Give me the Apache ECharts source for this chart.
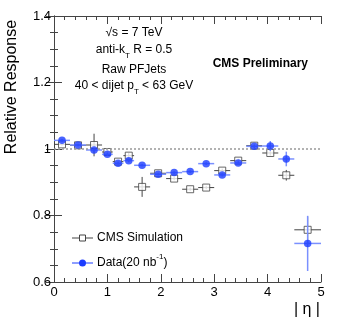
<!DOCTYPE html>
<html>
<head>
<meta charset="utf-8">
<script src="https://cdn.jsdelivr.net/npm/echarts@6/dist/echarts.min.js"></script>
<style>
  html, body { margin: 0; padding: 0; background: #fff; }
  #chart { width: 338px; height: 324px; }
</style>
</head>
<body>
<div id="chart"></div>
<script>
// |eta| bins: centre and half width
const etaCenters = [0.15, 0.45, 0.75, 1.0, 1.2, 1.4, 1.65, 1.95, 2.25, 2.55, 2.85, 3.15, 3.45, 3.75, 4.05, 4.35, 4.75]
const etaHalfWidths = [0.15, 0.15, 0.15, 0.1, 0.1, 0.1, 0.15, 0.15, 0.15, 0.15, 0.15, 0.15, 0.15, 0.15, 0.15, 0.15, 0.25]

// CMS Simulation (open squares)
const simValues = [1.014, 1.011, 1.012, 0.991, 0.962, 0.980, 0.886, 0.927, 0.911, 0.879, 0.884, 0.935, 0.965, 1.010, 0.988, 0.921, 0.757]
const simErrors = [0.004, 0.004, 0.034, 0.005, 0.005, 0.008, 0.030, 0.005, 0.005, 0.005, 0.005, 0.006, 0.006, 0.005, 0.008, 0.016, 0.040]

// Data 20 nb^-1 (filled circles)
const dataValues = [1.026, 1.012, 0.997, 0.984, 0.957, 0.965, 0.951, 0.924, 0.929, 0.932, 0.956, 0.922, 0.958, 1.008, 1.009, 0.970, 0.716]
const dataErrors = [0.004, 0.004, 0.006, 0.005, 0.005, 0.005, 0.004, 0.004, 0.004, 0.004, 0.004, 0.005, 0.005, 0.005, 0.015, 0.022, 0.083]

const yTicks = [0.6, 0.8, 1.0, 1.2, 1.4]

const FONT = "'Liberation Sans', Arial, sans-serif"
const SIM_COLOR = '#444'
const DATA_COLOR = '#1c3cff'
const DATA_BAR = '#7a90ff'

const simPoints = etaCenters.map((x, i) => [x, simValues[i], etaHalfWidths[i], simErrors[i]])
const dataPoints = etaCenters.map((x, i) => [x, dataValues[i], etaHalfWidths[i], dataErrors[i]])

const errorBars = (color, width) => (params, api) => {
  const x = api.value(0)
  const y = api.value(1)
  const hw = api.value(2)
  const e = api.value(3)
  const l = api.coord([x - hw, y])
  const r = api.coord([x + hw, y])
  const t = api.coord([x, y + e])
  const b = api.coord([x, y - e])
  const style = { stroke: color, lineWidth: width }
  return {
    type: 'group',
    children: [
      { type: 'line', shape: { x1: l[0], y1: l[1], x2: r[0], y2: r[1] }, style },
      { type: 'line', shape: { x1: t[0], y1: t[1], x2: b[0], y2: b[1] }, style }
    ]
  }
}

const axisCommon = {
  axisLine: { lineStyle: { color: '#444', width: 1 } },
  axisTick: { inside: true, length: 8, lineStyle: { color: '#444' } },
  minorTick: { show: true, length: 4, lineStyle: { color: '#444' } },
  splitLine: { show: false }
}

// small rich-text styles for sub / superscripts
const subStyle = { fontSize: 8, fontFamily: FONT, lineHeight: 8, verticalAlign: 'bottom' }
const supStyle = { fontSize: 8, fontFamily: FONT, lineHeight: 8, verticalAlign: 'top' }

const chart = echarts.init(document.getElementById('chart'))

const option = {
  backgroundColor: '#fff',
  animation: false,
  grid: { left: 54, right: 17, top: 16, bottom: 42 },
  xAxis: [
    {
      type: 'value', min: 0, max: 5, interval: 1, position: 'bottom',
      ...axisCommon,
      minorTick: { ...axisCommon.minorTick, splitNumber: 5 },
      axisLabel: { color: '#000', fontFamily: FONT, fontSize: 13, margin: 4 }
    },
    {
      type: 'value', min: 0, max: 5, interval: 1, position: 'top',
      ...axisCommon,
      minorTick: { ...axisCommon.minorTick, splitNumber: 5 },
      axisLabel: { show: false }
    }
  ],
  yAxis: [
    {
      type: 'value', min: yTicks[0], max: yTicks[yTicks.length - 1], interval: 0.2, position: 'left',
      ...axisCommon,
      minorTick: { ...axisCommon.minorTick, splitNumber: 4 },
      axisLabel: {
        color: '#000', fontFamily: FONT, fontSize: 13, margin: 3,
        formatter: v => String(Math.round(v * 10) / 10)
      }
    },
    {
      type: 'value', min: yTicks[0], max: yTicks[yTicks.length - 1], interval: 0.2, position: 'right',
      ...axisCommon,
      minorTick: { ...axisCommon.minorTick, splitNumber: 4 },
      axisLabel: { show: false }
    }
  ],
  series: [
    {
      name: 'ref',
      type: 'line',
      data: [],
      markLine: {
        silent: true,
        symbol: 'none',
        label: { show: false },
        lineStyle: { color: '#999', type: [2, 2], width: 1.5 },
        data: [{ yAxis: 1 }]
      }
    },
    {
      name: 'sim-err',
      type: 'custom',
      renderItem: errorBars(SIM_COLOR, 1),
      data: simPoints,
      encode: { x: 0, y: 1 },
      z: 2
    },
    {
      name: 'CMS Simulation',
      type: 'scatter',
      data: simPoints,
      symbol: 'rect',
      symbolSize: 7,
      itemStyle: { color: '#fff', borderColor: SIM_COLOR, borderWidth: 1 },
      z: 3
    },
    {
      name: 'data-err',
      type: 'custom',
      renderItem: errorBars(DATA_BAR, 1.5),
      data: dataPoints,
      encode: { x: 0, y: 1 },
      z: 4
    },
    {
      name: 'Data',
      type: 'scatter',
      data: dataPoints,
      symbol: 'circle',
      symbolSize: 7.5,
      itemStyle: { color: DATA_COLOR },
      z: 5
    }
  ],
  graphic: [
    {
      type: 'text', x: 12, y: 87, rotation: Math.PI / 2,
      style: { text: 'Relative Response', font: `16px ${FONT}`, fill: '#000', align: 'center', verticalAlign: 'middle' }
    },
    {
      type: 'text', x: 320, y: 310,
      style: { text: '| η |', font: `16px ${FONT}`, fill: '#000', align: 'right', verticalAlign: 'middle' }
    },
    {
      type: 'text', x: 134, y: 33,
      style: { text: '√s = 7 TeV', font: `12px ${FONT}`, fill: '#000', align: 'center', verticalAlign: 'middle' }
    },
    {
      type: 'text', x: 134, y: 50,
      style: {
        text: 'anti-k{sub|T} R = 0.5',
        font: `12px ${FONT}`, fill: '#000', align: 'center', verticalAlign: 'middle', lineHeight: 20,
        rich: { sub: subStyle }
      }
    },
    {
      type: 'text', x: 134, y: 70,
      style: { text: 'Raw PFJets', font: `12px ${FONT}`, fill: '#000', align: 'center', verticalAlign: 'middle' }
    },
    {
      type: 'text', x: 134, y: 86,
      style: {
        text: '40 < dijet p{sub|T} < 63 GeV',
        font: `12px ${FONT}`, fill: '#000', align: 'center', verticalAlign: 'middle', lineHeight: 20,
        rich: { sub: subStyle }
      }
    },
    {
      type: 'text', x: 308, y: 64,
      style: { text: 'CMS Preliminary', font: `bold 12px ${FONT}`, fill: '#000', align: 'right', verticalAlign: 'middle' }
    },
    // legend
    { type: 'line', shape: { x1: 72, y1: 238, x2: 93, y2: 238 }, style: { stroke: SIM_COLOR, lineWidth: 1 } },
    { type: 'rect', shape: { x: 79.5, y: 235, width: 6, height: 6 }, style: { fill: '#fff', stroke: SIM_COLOR, lineWidth: 1 } },
    {
      type: 'text', x: 97, y: 238,
      style: { text: 'CMS Simulation', font: `12px ${FONT}`, fill: '#000', align: 'left', verticalAlign: 'middle' }
    },
    { type: 'line', shape: { x1: 72, y1: 263, x2: 93, y2: 263 }, style: { stroke: DATA_COLOR, lineWidth: 1 } },
    { type: 'circle', shape: { cx: 82.5, cy: 263, r: 3.5 }, style: { fill: DATA_COLOR } },
    {
      type: 'text', x: 97, y: 263,
      style: {
        text: 'Data(20 nb{sup|-1})',
        font: `12px ${FONT}`, fill: '#000', align: 'left', verticalAlign: 'middle', lineHeight: 20,
        rich: { sup: supStyle }
      }
    }
  ]
}

chart.setOption(option)
</script>
</body>
</html>
